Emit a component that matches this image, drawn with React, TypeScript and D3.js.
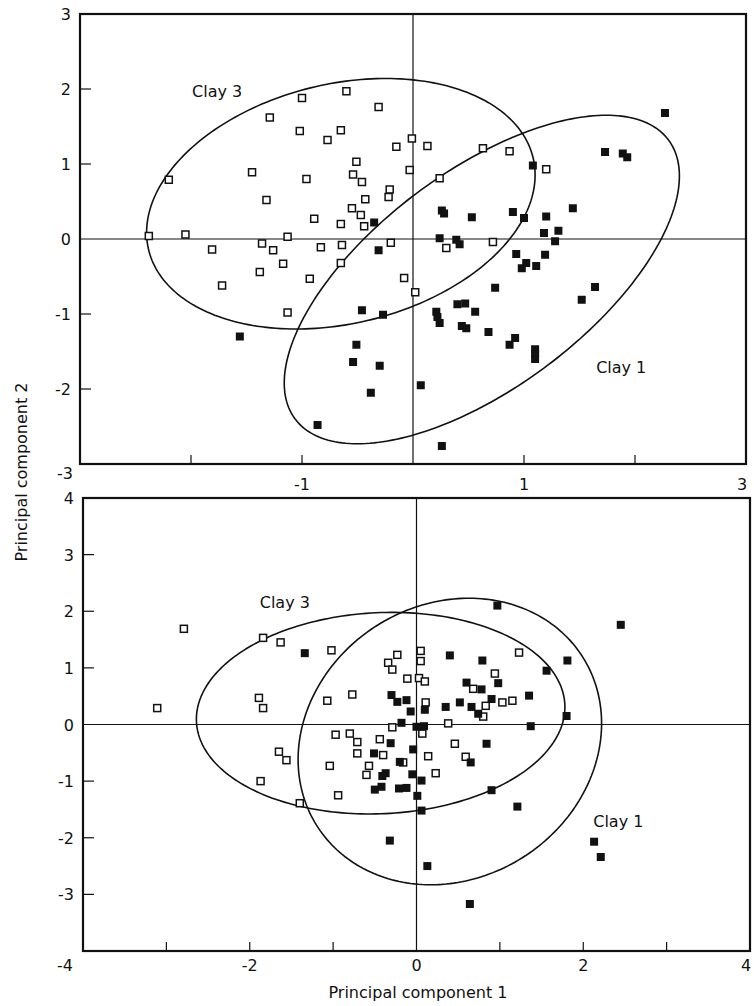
import React from "react";
import * as d3 from "d3";

type Pt = [number, number];

// ---------- Top panel data ----------
const topClay3: Pt[] = [
  [-2.20, 0.79], [-2.38, 0.04], [-2.05, 0.06], [-1.81, -0.14], [-1.72, -0.62], [-1.45, 0.89],
  [-1.29, 1.62], [-1.32, 0.52], [-1.36, -0.06], [-1.26, -0.15], [-1.38, -0.44], [-1.17, -0.33],
  [-1.13, 0.03], [-1.13, -0.98], [-1.00, 1.88], [-1.02, 1.44], [-0.96, 0.80], [-0.89, 0.27],
  [-0.93, -0.53], [-0.83, -0.11], [-0.77, 1.32], [-0.65, 1.45], [-0.60, 1.97], [-0.65, 0.20],
  [-0.64, -0.08], [-0.65, -0.32], [-0.51, 1.03], [-0.54, 0.86], [-0.46, 0.76], [-0.55, 0.41],
  [-0.47, 0.32], [-0.43, 0.53], [-0.44, 0.17], [-0.31, 1.76], [-0.21, 0.66], [-0.22, 0.56],
  [-0.20, -0.05], [-0.15, 1.23], [-0.08, -0.52], [-0.03, 0.92], [-0.01, 1.34], [0.02, -0.71],
  [0.13, 1.24], [0.24, 0.81], [0.63, 1.21], [0.87, 1.17], [1.20, 0.93], [0.30, -0.12], [0.72, -0.04],
];
const topClay1: Pt[] = [
  [-0.35, 0.22], [-0.31, -0.15], [-0.46, -0.95], [-0.27, -1.01], [2.27, 1.68], [1.73, 1.16],
  [1.89, 1.14], [1.93, 1.09], [1.08, 0.98], [0.26, 0.38], [0.28, 0.34], [0.53, 0.29], [0.90, 0.36],
  [1.00, 0.28], [1.44, 0.41], [1.20, 0.30], [1.18, 0.08], [1.31, 0.11], [1.28, -0.03], [0.24, 0.01],
  [0.39, -0.01], [0.42, -0.07], [0.93, -0.20], [1.19, -0.21], [1.02, -0.32], [0.98, -0.39],
  [1.11, -0.36], [1.64, -0.64], [1.52, -0.81], [0.74, -0.65], [0.40, -0.87], [0.47, -0.86],
  [0.56, -0.97], [0.21, -0.97], [0.22, -1.04], [0.24, -1.12], [0.44, -1.16], [0.48, -1.19],
  [0.68, -1.24], [0.87, -1.41], [0.92, -1.32], [1.10, -1.47], [1.10, -1.53], [1.10, -1.60],
  [-1.56, -1.30], [-0.51, -1.41], [-0.54, -1.64], [-0.30, -1.69], [-0.38, -2.05], [-0.86, -2.48],
  [0.07, -1.95], [0.26, -2.76],
];

// ---------- Bottom panel data ----------
const bottomClay3: Pt[] = [
  [-2.79, 1.69], [-3.11, 0.29], [-1.84, 1.53], [-1.63, 1.45], [-1.02, 1.31], [-1.89, 0.47],
  [-1.84, 0.29], [-1.65, -0.48], [-1.56, -0.63], [-1.87, -1.00], [-1.40, -1.39], [-1.07, 0.42],
  [-0.77, 0.53], [-0.97, -0.18], [-0.80, -0.16], [-0.71, -0.31], [-0.71, -0.51], [-1.04, -0.73],
  [-0.94, -1.25], [-0.44, -0.26], [-0.40, -0.54], [-0.57, -0.73], [-0.60, -0.89], [-0.16, -0.67],
  [-0.34, 1.09], [-0.29, 0.97], [-0.23, 1.23], [-0.11, 0.81], [-0.29, -0.05], [0.05, 1.30],
  [0.05, 1.12], [0.03, 0.82], [0.10, 0.76], [1.23, 1.27], [0.94, 0.90], [0.68, 0.63], [0.83, 0.33],
  [1.03, 0.39], [1.15, 0.42], [0.80, 0.14], [0.11, 0.39], [0.38, 0.02], [0.07, -0.16], [0.46, -0.34],
  [0.14, -0.56], [0.59, -0.57], [0.23, -0.86],
];
const bottomClay1: Pt[] = [
  [-1.34, 1.26], [-0.30, 0.52], [-0.23, 0.40], [-0.12, 0.43], [-0.07, 0.23], [-0.18, 0.03],
  [0.00, -0.04], [0.09, -0.03], [-0.31, -0.33], [-0.51, -0.51], [-0.04, -0.44], [-0.20, -0.66],
  [-0.05, -0.88], [-0.37, -0.86], [-0.41, -0.91], [-0.50, -1.15], [-0.42, -1.10], [-0.21, -1.13],
  [-0.12, -1.12], [0.01, -1.26], [0.97, 2.10], [2.45, 1.76], [0.40, 1.22], [0.79, 1.13], [1.81, 1.13],
  [1.56, 0.95], [0.60, 0.74], [0.78, 0.62], [0.98, 0.73], [0.90, 0.45], [1.35, 0.51], [0.52, 0.39],
  [0.35, 0.31], [0.66, 0.31], [0.74, 0.19], [0.10, 0.26], [1.80, 0.15], [1.37, -0.03], [0.84, -0.34],
  [0.65, -0.67], [0.06, -0.99], [0.06, -1.52], [0.90, -1.16], [1.21, -1.45], [-0.32, -2.05],
  [0.13, -2.50], [0.64, -3.17], [2.13, -2.07], [2.21, -2.34],
];

// Ellipses: centre, half-width, half-height (data units), correlation-like tilt
interface Ell { cx: number; cy: number; w: number; h: number; rho: number }
const topEllipses: Ell[] = [
  { cx: -0.65, cy: 0.47, w: 1.75, h: 1.67, rho: 0.23 },
  { cx: 0.62, cy: -0.54, w: 1.78, h: 2.19, rho: 0.63 },
];
const bottomEllipses: Ell[] = [
  { cx: -0.43, cy: 0.2, w: 2.21, h: 1.78, rho: 0.06 },
  { cx: 0.4, cy: -0.3, w: 1.82, h: 2.53, rho: 0.126 },
];

// Group labels (data coordinates)
const topLabels: { text: string; x: number; y: number }[] = [
  { text: "Clay 3", x: -1.99, y: 1.89 },
  { text: "Clay 1", x: 1.65, y: -1.78 },
];
const bottomLabels: { text: string; x: number; y: number }[] = [
  { text: "Clay 3", x: -1.88, y: 2.05 },
  { text: "Clay 1", x: 2.12, y: -1.81 },
];

const topYTicks = [3, 2, 1, 0, -1, -2];
const topXTickLabels = [-1, 1, 3];
const topMinorTicks = [-2, -1, 1, 2];
const bottomYTicks = [4, 3, 2, 1, 0, -1, -2, -3];
const bottomXTickLabels = [-2, 0, 2, 4];
const bottomMinorTicks = [-3, -2, -1, 1, 2, 3];

const FONT = "DejaVu Sans, Verdana, sans-serif";

function ellipsePoints(e: Ell): Pt[] {
  const s = Math.sqrt(1 - e.rho * e.rho);
  return d3.range(0, 2 * Math.PI, Math.PI / 120).map((t) => [
    e.cx + e.w * Math.cos(t),
    e.cy + e.h * (e.rho * Math.cos(t) + s * Math.sin(t)),
  ]);
}

interface PanelProps {
  xDomain: [number, number];
  yDomain: [number, number];
  xRange: [number, number];
  yRange: [number, number];
  open: Pt[];
  filled: Pt[];
  ellipses: Ell[];
  labels: { text: string; x: number; y: number }[];
  yTicks: number[];
  minorTicks: number[];
  leftTicks: number[];
}

function Panel(p: PanelProps) {
  const xs = d3.scaleLinear().domain(p.xDomain).range(p.xRange);
  const ys = d3.scaleLinear().domain(p.yDomain).range(p.yRange);
  const line = d3
    .line<Pt>()
    .x((d) => xs(d[0]))
    .y((d) => ys(d[1]))
    .curve(d3.curveLinearClosed);
  const [xl, xr] = p.xRange;
  const [yb, yt] = p.yRange;
  const o = 7;
  const f = 8;
  return (
    <g>
      {/* zero lines */}
      <line x1={xs(0)} x2={xs(0)} y1={yt} y2={yb} stroke="#111" strokeWidth={1.2} />
      <line x1={xl} x2={xr} y1={ys(0)} y2={ys(0)} stroke="#111" strokeWidth={1.2} />
      {/* left ticks */}
      {p.leftTicks.map((t) => (
        <line key={"l" + t} x1={xl} x2={xl + 11} y1={ys(t)} y2={ys(t)} stroke="#111" strokeWidth={1.2} />
      ))}
      {/* bottom ticks */}
      {p.minorTicks.map((t) => (
        <line key={"b" + t} x1={xs(t)} x2={xs(t)} y1={yb} y2={yb - 9} stroke="#111" strokeWidth={1.2} />
      ))}
      {/* ellipses */}
      {p.ellipses.map((e, i) => (
        <path key={"e" + i} d={line(ellipsePoints(e)) || ""} fill="none" stroke="#111" strokeWidth={1.6} />
      ))}
      {/* points */}
      {p.open.map((d, i) => (
        <rect key={"o" + i} x={xs(d[0]) - o / 2} y={ys(d[1]) - o / 2} width={o} height={o}
          fill="#fff" stroke="#111" strokeWidth={1.5} />
      ))}
      {p.filled.map((d, i) => (
        <rect key={"f" + i} x={xs(d[0]) - f / 2} y={ys(d[1]) - f / 2} width={f} height={f} fill="#111" />
      ))}
      {/* frame */}
      <rect x={xl} y={yt} width={xr - xl} height={yb - yt} fill="none" stroke="#111" strokeWidth={2.2} />
      {/* group labels */}
      {p.labels.map((l) => (
        <text key={l.text} x={xs(l.x)} y={ys(l.y)} fontFamily={FONT} fontSize={16} fill="#111">
          {l.text}
        </text>
      ))}
      {/* y tick labels */}
      {p.yTicks.map((t) => (
        <text key={"yl" + t} x={xl - 9} y={ys(t) + 6} textAnchor="end" fontFamily={FONT} fontSize={16} fill="#111">
          {t < 0 ? "-" + Math.abs(t) : String(t)}
        </text>
      ))}
    </g>
  );
}

export default function App() {
  const topX: [number, number] = [80, 746];
  const topY: [number, number] = [464, 14];
  const botX: [number, number] = [83, 750];
  const botY: [number, number] = [951, 498];
  const xsTop = d3.scaleLinear().domain([-3, 3]).range(topX);
  const xsBot = d3.scaleLinear().domain([-4, 4]).range(botX);
  return (
    <svg width={754} height={1006} style={{ position: "absolute", left: 0, top: 0, background: "#fff" }}>
      <rect x={0} y={0} width={754} height={1006} fill="#fff" />
      <Panel
        xDomain={[-3, 3]} yDomain={[-3, 3]} xRange={topX} yRange={topY}
        open={topClay3} filled={topClay1} ellipses={topEllipses} labels={topLabels}
        yTicks={topYTicks} minorTicks={topMinorTicks} leftTicks={[-2, -1, 1, 2]}
      />
      <Panel
        xDomain={[-4, 4]} yDomain={[-4, 4]} xRange={botX} yRange={botY}
        open={bottomClay3} filled={bottomClay1} ellipses={bottomEllipses} labels={bottomLabels}
        yTicks={bottomYTicks} minorTicks={bottomMinorTicks} leftTicks={[3, 2, 1, -1, -2, -3]}
      />
      {/* top panel x labels */}
      <text x={73} y={479} textAnchor="end" fontFamily={FONT} fontSize={16} fill="#111">-3</text>
      {topXTickLabels.map((t) => (
        <text key={"tx" + t} x={xsTop(t) - (t === 3 ? 4 : 0)} y={490} textAnchor="middle" fontFamily={FONT} fontSize={16} fill="#111">
          {t < 0 ? "-" + Math.abs(t) : String(t)}
        </text>
      ))}
      {/* bottom panel x labels */}
      <text x={73} y={971} textAnchor="end" fontFamily={FONT} fontSize={16} fill="#111">-4</text>
      {bottomXTickLabels.map((t) => (
        <text key={"bx" + t} x={xsBot(t) - (t === 4 ? 4 : 0)} y={971} textAnchor="middle" fontFamily={FONT} fontSize={16} fill="#111">
          {t < 0 ? "-" + Math.abs(t) : String(t)}
        </text>
      ))}
      {/* axis titles */}
      <text x={418} y={998} textAnchor="middle" fontFamily={FONT} fontSize={16} fill="#111">
        Principal component 1
      </text>
      <text transform="translate(27,472) rotate(-90)" textAnchor="middle" fontFamily={FONT} fontSize={16} fill="#111">
        Principal component 2
      </text>
    </svg>
  );
}
